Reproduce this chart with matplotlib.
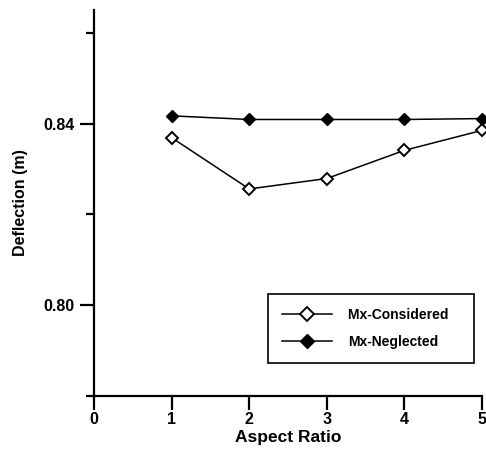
import matplotlib.pyplot as plt
from matplotlib.ticker import FixedLocator

aspect_ratio = [1, 2, 3, 4, 5]
mx_considered = [0.8369, 0.8256, 0.8279, 0.8341, 0.8385]
mx_neglected = [0.8417, 0.8409, 0.8409, 0.8409, 0.8411]

plt.rcParams['font.family'] = ['Liberation Sans', 'DejaVu Sans']
plt.rcParams['font.weight'] = 'bold'

fig = plt.figure(figsize=(4.86, 4.57), dpi=100)
ax = fig.add_axes([0.1934, 0.1335, 0.7984, 0.8445])

ax.plot(aspect_ratio, mx_considered, color='black', lw=1.1, marker='D', ms=6.5,
        mfc='white', mec='black', mew=1.4, label='Mx-Considered   ', clip_on=False)
ax.plot(aspect_ratio, mx_neglected, color='black', lw=1.1, marker='D', ms=6.5,
        mfc='black', mec='black', label='Mx-Neglected', clip_on=False)

ax.set_xlim(0, 5)
ax.set_ylim(0.78, 0.865)
ax.set_xticks([0, 1, 2, 3, 4, 5])
ax.set_yticks([0.80, 0.84])
ax.set_yticklabels(['0.80', '0.84'])
ax.yaxis.set_minor_locator(FixedLocator([0.78, 0.82, 0.86]))

for s in ['top', 'right']:
    ax.spines[s].set_visible(False)
for s in ['left', 'bottom']:
    ax.spines[s].set_linewidth(1.6)

ax.tick_params(axis='both', which='major', direction='out', length=10, width=1.6,
               labelsize=11.5, pad=4)
ax.tick_params(axis='x', which='major', pad=1.5)
ax.tick_params(axis='y', which='minor', direction='out', length=6, width=1.6)

ax.set_xlabel('Aspect Ratio', fontsize=12.5, fontweight='bold', labelpad=2)
ax.set_ylabel('Deflection (m)', fontsize=11.5, fontweight='bold', labelpad=11)

leg = ax.legend(loc='lower right', bbox_to_anchor=(0.98, 0.085), fontsize=10,
                fancybox=False, edgecolor='black', framealpha=1, handlelength=3.6,
                borderpad=1.0, labelspacing=0.95, handletextpad=1.2, borderaxespad=0,
                markerscale=1.15)
leg.get_frame().set_linewidth(1.2)

fig.savefig('out.png', dpi=100)
